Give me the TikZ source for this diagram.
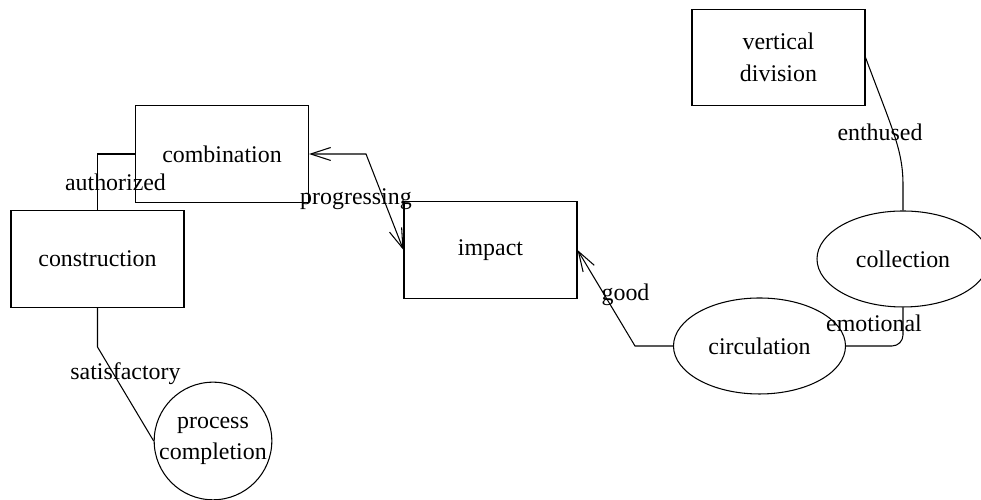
\documentclass[tikz,border=0pt]{standalone}
\usepackage{fontspec}
\setmainfont{Liberation Serif}
\usepackage{tikz}
\usetikzlibrary{shapes,arrows.meta}
\tikzstyle{rectblock} = [rectangle, draw, line width=0.6pt, align=center, inner sep=0pt, minimum width=3.46cm, minimum height=1.93cm]
\tikzstyle{ellblock} = [ellipse, draw, line width=0.6pt, align=center, inner sep=0pt, minimum width=3.44cm, minimum height=1.92cm]
\tikzstyle{circblock} = [circle, draw, line width=0.6pt, align=center, inner sep=0pt, minimum size=2.33cm]
\tikzstyle{link} = [draw, line width=0.6pt]
\tikzstyle{arrow} = [link, -{Straight Barb[length=0.4cm, width=0.26cm]}]
\tikzstyle{biarrow} = [link, {Straight Barb[length=0.4cm, width=0.26cm]}-{Straight Barb[length=0.4cm, width=0.26cm]}]
\tikzstyle{lbl} = [inner sep=0pt]

\begin{document}
\begin{tikzpicture}[font=\fontsize{13.6}{18}\selectfont]

    \useasboundingbox (0, 0) rectangle (19.62, 10);

    % boxes
    \node[rectblock] at (15.57, 8.85) (vdiv) {vertical\\division};
    \node[rectblock] at (4.44, 6.92) (comb) {combination};
    \node[rectblock] at (1.95, 4.82) (constr) {construction};
    \node[rectblock] at (9.81, 5.00) (impact) {impact};

    % round ones
    \node[ellblock] at (18.06, 4.82) (coll) {collection};
    \node[ellblock] at (15.19, 3.08) (circ) {circulation};
    \node[circblock] at (4.26, 1.18) (proc) {process\\completion};

    % edges
    \path[link] (constr.north) |- (comb.west);
    \node[lbl] at (2.31, 6.36) (lauth) {authorized};

    \path[link] (constr.south) -- (1.95, 3.06) -- (proc.west);
    \node[lbl] at (2.51, 2.52) (lsat) {satisfactory};

    \path[biarrow] (comb.east) -- (7.32, 6.92) -- (impact.west);
    \node[lbl] at (7.12, 6.02) (lprog) {progressing};

    \path[arrow] (circ.west) -- (12.7, 3.08) -- (impact.east);
    \node[lbl] at (12.51, 4.1) (lgood) {good};

    \path[link, rounded corners=0.22cm] (circ.east) -| (coll.south);
    \node[lbl] at (17.48, 3.54) (lemo) {emotional};

    \path[link] (vdiv.east) .. controls (17.85, 7.4) and (18.06, 7.0) .. (18.06, 6.3) -- (coll.north);
    \node[lbl] at (17.6, 7.36) (lenth) {enthused};

\end{tikzpicture}
\end{document}
